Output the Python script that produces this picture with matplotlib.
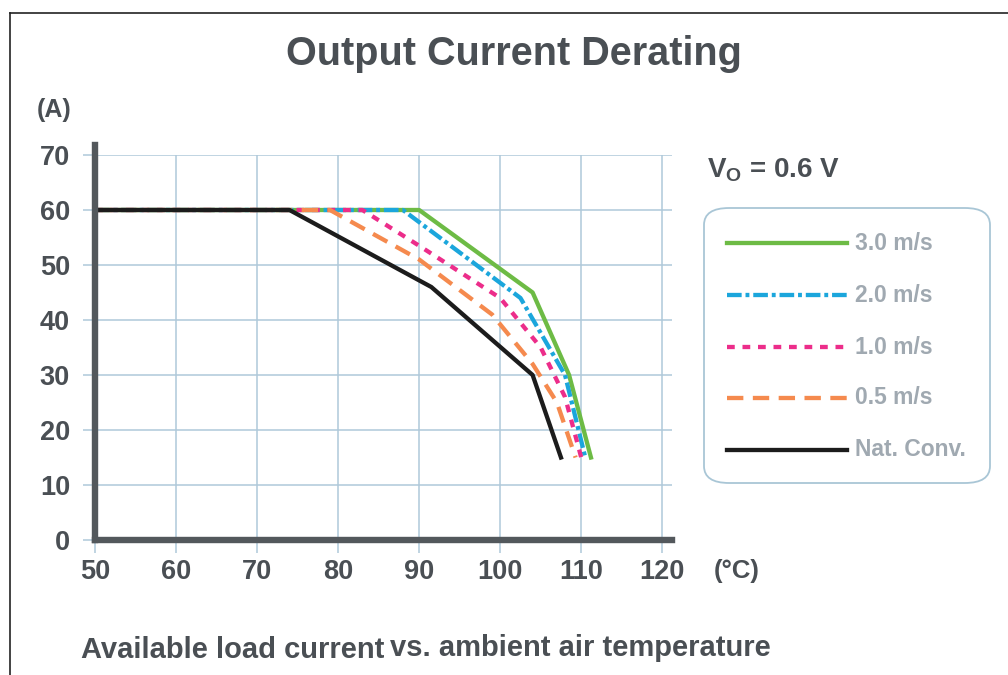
import numpy as np
import matplotlib
matplotlib.use("Agg")
from matplotlib import pyplot as plt
from matplotlib.patches import FancyBboxPatch
from matplotlib.lines import Line2D

plt.rcParams['font.family'] = ['Liberation Sans', 'DejaVu Sans']
plt.rcParams['font.weight'] = 'bold'
plt.rcParams['mathtext.default'] = 'regular'

# derating curves, temperature (degC) vs output current (A)
t_nat = [50, 74, 91.5, 104, 107.5]
i_nat = [60, 60, 46, 30, 15]

t_05 = [50, 79, 90, 99, 104, 107, 109.3]
i_05 = [60, 60, 51, 41, 32, 25, 15]

t_10 = [50, 83, 90, 100, 105, 108, 110]
i_10 = [60, 60, 53.5, 44, 35, 26, 15]

t_20 = [50, 88, 102.5, 108, 110.5]
i_20 = [60, 60, 44, 30, 15]

t_30 = [50, 90, 104, 108.5, 111.2]
i_30 = [60, 60, 45, 30, 15]

labels = ['3.0 m/s', '2.0 m/s', '1.0 m/s', '0.5 m/s', 'Nat. Conv.']
xticks = [50, 60, 70, 80, 90, 100, 110, 120]
yticks = [0, 10, 20, 30, 40, 50, 60, 70]

txt = '#4a4f54'
grid_c = '#afc9da'
W, H = 1008, 675
fig = plt.figure(figsize=(W / 100, H / 100), dpi=100)
ax = fig.add_axes([95 / W, (H - 540) / H, 577 / W, 385 / H])

lw = 3.1
st_30 = dict(color='#6dbb45')
st_20 = dict(color='#1ba6dc', dashes=(3.4, 0.9, 0.9, 0.9))
st_10 = dict(color='#ec2d8a', dashes=(1.8, 1.8))
st_05 = dict(color='#f58a4e', dashes=(3.8, 2.2))
st_nat = dict(color='#1c1c1c')

ax.plot(t_30, i_30, lw=lw, zorder=3, **st_30)
ax.plot(t_20, i_20, lw=lw, zorder=4, **st_20)
ax.plot(t_10, i_10, lw=lw, zorder=5, **st_10)
ax.plot(t_05, i_05, lw=lw, zorder=6, **st_05)
ax.plot(t_nat, i_nat, lw=lw, zorder=7, **st_nat)

ax.set_xlim(50, 121.2)
ax.set_ylim(0, 70)
ax.set_xticks(xticks)
ax.set_yticks(yticks)
ax.grid(True, color=grid_c, lw=1.1)
ax.set_axisbelow(True)
for s in ['top', 'right']:
    ax.spines[s].set_visible(False)
for s in ['left', 'bottom']:
    ax.spines[s].set_linewidth(4.6)
    ax.spines[s].set_color('#53585c')
    ax.spines[s].set_zorder(8)
ax.spines['left'].set_bounds(0, 71.8)
ax.spines['bottom'].set_bounds(50, 121.2)
ax.tick_params(axis='both', length=9, width=1.1, color=grid_c,
               labelsize=19.5, labelcolor=txt)
ax.tick_params(axis='y', pad=9)
ax.tick_params(axis='x', pad=5)

fig.text(514 / W, 1 - 65 / H, 'Output Current Derating', ha='center', va='baseline',
         fontsize=28.5, color=txt)
fig.text(37 / W, 1 - 110 / H, '(A)', ha='left', va='center', fontsize=18, color=txt)
fig.text(714 / W, 1 - 571 / H, '(°C)', ha='left', va='center', fontsize=18.5, color=txt)
fig.text(707 / W, 1 - 177 / H, r'V$_\mathregular{O}$ = 0.6 V', ha='left', va='baseline',
         fontsize=20, color=txt)
fig.text(81 / W, 1 - 658 / H, 'Available load current', ha='left', va='baseline',
         fontsize=21, color=txt)
fig.text(390 / W, 1 - 656 / H, 'vs. ambient air temperature', ha='left', va='baseline',
         fontsize=21, color=txt)

# legend box
box = FancyBboxPatch((704 / W, 1 - 483 / H), 286 / W, 275 / H,
                     boxstyle='round,pad=0,rounding_size=0.025', transform=fig.transFigure,
                     fc='white', ec='#a9c6d6', lw=1.3)
fig.patches.append(box)
handles = [st_30, st_20, st_10, st_05, st_nat]
ys = [243, 295, 347, 398, 450]
for lab, hd, y in zip(labels, handles, ys):
    fig.lines.append(Line2D([727 / W, 847 / W], [1 - y / H, 1 - y / H], transform=fig.transFigure,
                            lw=lw, **hd))
    fig.text(855 / W, 1 - y / H, lab, ha='left', va='center', fontsize=16.5, color='#a0a9b1')

# frame lines (top, left)
fig.lines.append(Line2D([9.5 / W, 1], [1 - 13 / H, 1 - 13 / H], transform=fig.transFigure,
                        color='#222222', lw=1.2))
fig.lines.append(Line2D([9.5 / W, 9.5 / W], [0, 1 - 13 / H], transform=fig.transFigure,
                        color='#222222', lw=1.2))

fig.savefig('out.png', dpi=100, facecolor='white')
